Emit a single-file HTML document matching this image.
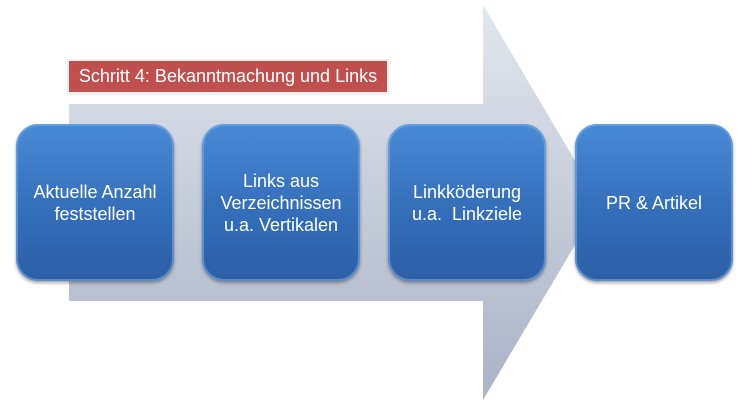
<!DOCTYPE html>
<html><head><meta charset="utf-8"><style>
body{margin:0;width:750px;height:406px;background:#fff;position:relative;overflow:hidden;font-family:"Liberation Sans",sans-serif}
.box{position:absolute;top:124px;width:158px;height:157px;border-radius:22px;background:linear-gradient(#4a8bd6,#3570bb 50%,#2d5fa6);box-shadow:0 2px 3px rgba(0,0,0,.35),inset 0 0 0 2px rgba(120,170,230,.6);color:#fff;display:flex;align-items:center;justify-content:center;text-align:center;font-size:18px;line-height:22px}
.lab{position:absolute;left:69px;top:61px;width:318px;height:31px;background:#c0504d;color:#fff;font-size:18px;line-height:31px;text-align:center;box-shadow:0 1px 3px rgba(0,0,0,.3);outline:2px solid #f0f0f0}
</style></head><body>
<svg width="750" height="406" style="position:absolute;left:0;top:0">
<defs><linearGradient id="g" x1="0" y1="0" x2="0" y2="1"><stop offset="0" stop-color="#e2e6ee"/><stop offset="1" stop-color="#a9b3c6"/></linearGradient></defs>
<polygon points="69,104 483,104 483,5 600,203 483,400 483,301 69,301" fill="url(#g)"/>
</svg>
<div class="lab">Schritt 4: Bekanntmachung und Links</div>
<div class="box" style="left:16px">Aktuelle Anzahl<br>feststellen</div>
<div class="box" style="left:202px">Links aus<br>Verzeichnissen<br>u.a. Vertikalen</div>
<div class="box" style="left:388px">Linkköderung<br>u.a.&nbsp; Linkziele</div>
<div class="box" style="left:575px">PR &amp; Artikel</div>
</body></html>
